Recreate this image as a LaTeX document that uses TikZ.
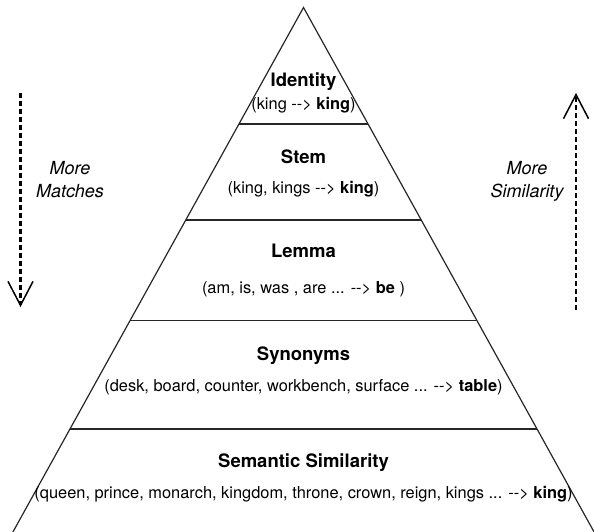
\documentclass[tikz,border=0pt]{standalone}
\usepackage{fontspec}
\setmainfont{TeX Gyre Heros}
\usetikzlibrary{arrows.meta}
\newcommand{\maps}{-{}->}
\begin{document}
\begin{tikzpicture}[x=1pt,y=-1pt,
  edge/.style={line width=1.2pt, draw=black!85},
  title/.style={anchor=base, font=\fontsize{18.5}{22}\selectfont\bfseries, inner sep=0pt},
  example/.style={anchor=base, font=\fontsize{16.4}{20}\selectfont, inner sep=0pt},
  sidelabel/.style={anchor=north, align=center, font=\fontsize{18}{23}\selectfont\itshape, inner sep=0pt},
  trend/.style={line width=2.2pt, dash pattern=on 5pt off 3pt,
    -{Straight Barb[length=24pt,width=25pt,line width=1.5pt]}}
]
\useasboundingbox (0,0) rectangle (594,531);

% pyramid outline and layer separators
\begin{scope}
  \clip (0,0) rectangle (594,531);
  \coordinate (apex) at (303.5,7.5);
  \coordinate (bl) at (-1.5,558);
  \coordinate (br) at (608.5,558);
  \draw[edge, line join=miter] (bl) -- (apex) -- (br);
  \coordinate (s1l) at (239.0,124);  \coordinate (s1r) at (368.0,124);
  \coordinate (s2l) at (185.8,220);  \coordinate (s2r) at (421.2,220);
  \coordinate (s3l) at (130.1,320.5);\coordinate (s3r) at (476.9,320.5);
  \coordinate (s4l) at (70.0,429);   \coordinate (s4r) at (537.0,429);
  \draw[edge] (s1l) -- (s1r);
  \draw[edge] (s2l) -- (s2r);
  \draw[edge] (s3l) -- (s3r);
  \draw[edge] (s4l) -- (s4r);
\end{scope}

% layer texts
\node[title]   (t1) at (303.5,86)  {Identity};
\node[example] (e1) at (303.5,109) {(king \maps{} \textbf{king})};
\node[title]   (t2) at (303.5,163) {Stem};
\node[example] (e2) at (303.5,193) {(king, kings \maps{} \textbf{king})};
\node[title]   (t3) at (303.5,257) {Lemma};
\node[example] (e3) at (303.5,293) {(am, is, was , are ... \maps{} \textbf{be} )};
\node[title]   (t4) at (303.5,360) {Synonyms};
\node[example] (e4) at (303.5,391) {(desk, board, counter, workbench, surface ... \maps{} \textbf{table})};
\node[title]   (t5) at (303.5,467) {Semantic Similarity};
\node[example] (e5) at (303.5,498) {(queen, prince, monarch, kingdom, throne, crown, reign, kings ... \maps{} \textbf{king})};

% side trends
\coordinate (ltop) at (20.5,93);
\coordinate (lbot) at (20.5,307);
\draw[trend] (ltop) -- (lbot);
\node[sidelabel] (lm) at (70,161) {More\\Matches};

\coordinate (rbot) at (576,310);
\coordinate (rtop) at (576,93);
\draw[trend] (rbot) -- (rtop);
\node[sidelabel] (rm) at (527,161) {More\\Similarity};
\end{tikzpicture}
\end{document}
